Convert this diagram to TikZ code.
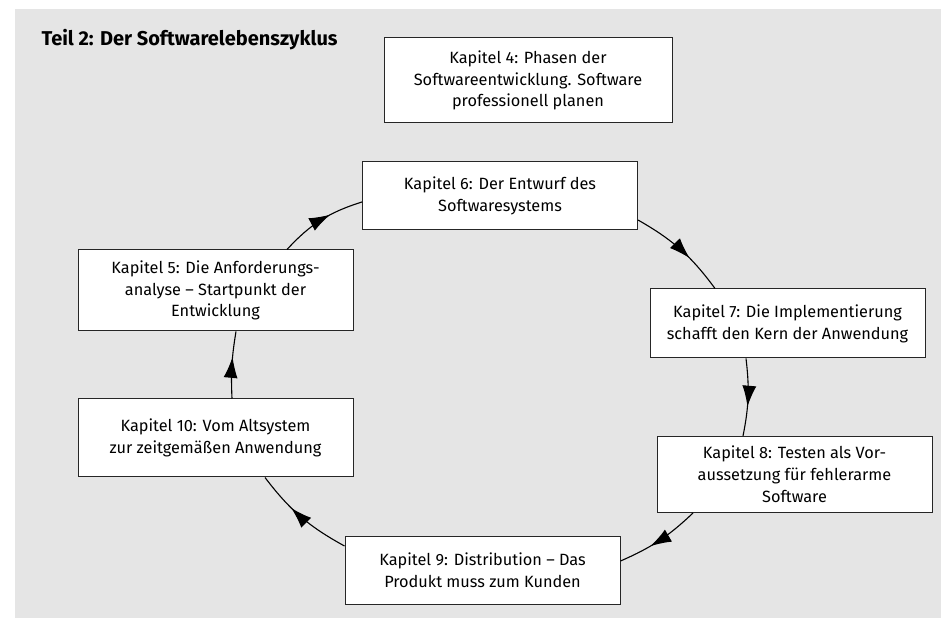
\documentclass[tikz,border=0pt]{standalone}
\usepackage{fontspec}
\setmainfont{Fira Sans}
\usetikzlibrary{arrows.meta, decorations.markings}

\begin{document}
\begin{tikzpicture}[x=1pt, y=1pt, font=\fontsize{16.3}{21.8}\selectfont,
  kapitel/.style={draw=black!85, fill=white, line width=1pt, align=center, inner sep=0pt, minimum width=275},
  zyklus/.style={line width=1.1pt, postaction={decorate}, decoration={markings, mark=at position 0.62 with {\arrow{Latex[length=21pt,width=14pt]}}}}]
\useasboundingbox (0,0) rectangle (941,618);
\fill[black!10] (15,0) rectangle (941,609);
\node[anchor=base west, font=\fontsize{20}{24}\selectfont\bfseries] (titel) at (38,572) {Teil 2: Der Softwarelebenszyklus};
% Kapitel
\node[kapitel, minimum width=288, minimum height=85] (k4) at (528,537.5) {Kapitel 4: Phasen der\\Softwareentwicklung. Software\\professionell planen};
\node[kapitel, minimum height=68] (k6) at (500,422) {Kapitel 6: Der Entwurf des\\Softwaresystems};
\node[kapitel, minimum height=69] (k7) at (787.5,294.5) {Kapitel 7: Die Implementierung\\schafft den Kern der Anwendung};
\node[kapitel, minimum height=76] (k8) at (794.5,143.5) {Kapitel 8: Testen als Vor-\\aussetzung für fehlerarme\\Software};
\node[kapitel, minimum height=68] (k9) at (482.5,48) {Kapitel 9: Distribution – Das\\Produkt muss zum Kunden};
\node[kapitel, minimum height=78] (k10) at (215.5,180) {Kapitel 10: Vom Altsystem\\zur zeitgemäßen Anwendung};
\node[kapitel, minimum height=81] (k5) at (215.5,327.5) {Kapitel 5: Die Anforderungs-\\analyse – Startpunkt der\\Entwicklung};
% Zyklus
\draw[zyklus] ([xshift=71.5]k5.north) to[bend left=15] ([yshift=-6]k6.west);
\draw[zyklus] ([yshift=-24]k6.east) to[bend left=12] ([xshift=-72.5]k7.north);
\draw[zyklus] ([xshift=-41.5]k7.south) to[bend left=9] ([xshift=-51.5]k8.north);
\draw[zyklus] ([xshift=-101.5]k8.south) to[bend left=10] ([yshift=9]k9.east);
\draw[zyklus] ([yshift=24]k9.west) to[bend left=12] ([xshift=49.5]k10.south);
\draw[zyklus] ([xshift=16.5]k10.north) to[bend left=6] ([xshift=20.5]k5.south);
\end{tikzpicture}
\end{document}
